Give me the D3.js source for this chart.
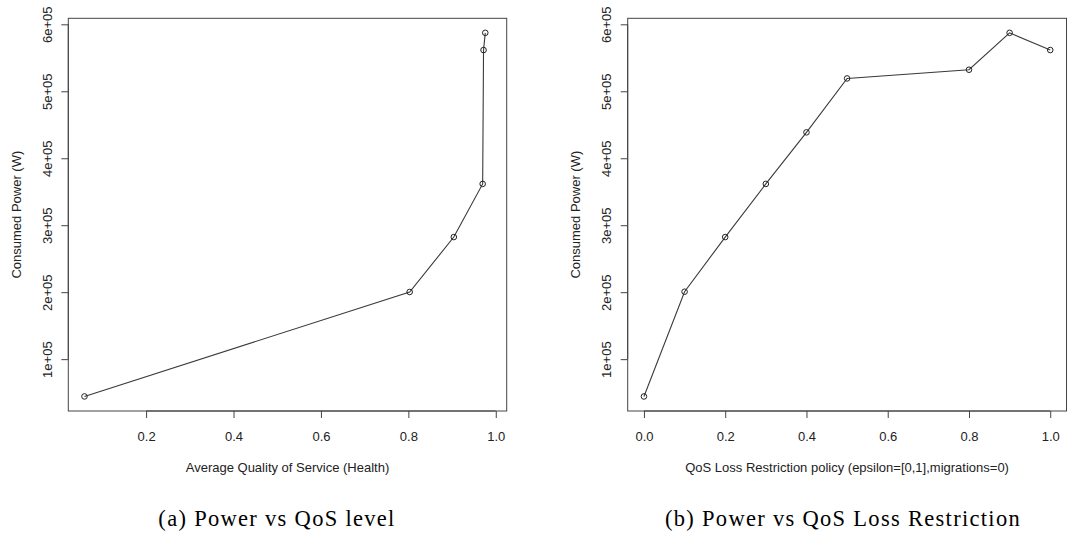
<!DOCTYPE html>
<html>
<head>
<meta charset="utf-8">
<script src="https://cdn.jsdelivr.net/npm/d3@7"></script>
<style>
  html, body { margin: 0; padding: 0; background: #fff; }
  svg { display: block; }
</style>
</head>
<body>
<svg id="fig" width="1068" height="533"></svg>
<script>
// Consumed power measured for each run (W)
const qosLevel = [0.059, 0.803, 0.904, 0.970, 0.972, 0.976];
const powerByQos = [44300, 200300, 282300, 361700, 561600, 587300];

const epsilon = [0.0, 0.1, 0.2, 0.3, 0.4, 0.5, 0.8, 0.9, 1.0];
const powerByEpsilon = [44300, 200700, 282300, 361700, 438700, 519200, 532200, 587300, 561600];

const yTicks = [100000, 200000, 300000, 400000, 500000, 600000];
const yTickLabels = ["1e+05", "2e+05", "3e+05", "4e+05", "5e+05", "6e+05"];
const xTicksA = [0.2, 0.4, 0.6, 0.8, 1.0];
const xTicksB = [0.0, 0.2, 0.4, 0.6, 0.8, 1.0];

const yTitle = "Consumed Power (W)";
const xTitleA = "Average Quality of Service (Health)";
const xTitleB = "QoS Loss Restriction policy (epsilon=[0,1],migrations=0)";
const captionA = "(a) Power vs QoS level";
const captionB = "(b) Power vs QoS Loss Restriction";

const svg = d3.select("#fig");
const sans = "'Liberation Sans', Arial, Helvetica, sans-serif";
const serif = "'Liberation Serif', 'Times New Roman', serif";

function panel(opts) {
  const { left, right, top, bottom, xDomain, xs, ys, xTicks, xTitle, caption, captionX } = opts;
  const x = d3.scaleLinear().domain(xDomain).range([left, right]);
  const y = d3.scaleLinear().domain([22560, 609000]).range([bottom, top]);
  const g = svg.append("g");

  // plot frame
  g.append("rect")
    .attr("x", left).attr("y", top)
    .attr("width", right - left).attr("height", bottom - top)
    .attr("fill", "none").attr("stroke", "#444").attr("stroke-width", 1);

  // x axis
  const xAxis = d3.axisBottom(x).tickValues(xTicks).tickSize(7).tickPadding(0)
    .tickFormat(d3.format(".1f"));
  const gx = g.append("g").attr("transform", `translate(0,${bottom})`).call(xAxis);
  gx.select(".domain").attr("stroke", "#444")
    .attr("d", `M${x(xTicks[0])},0H${x(xTicks[xTicks.length - 1])}`);
  gx.selectAll(".tick line").attr("stroke", "#444");
  gx.selectAll(".tick text")
    .attr("y", 29.7).attr("dy", null)
    .attr("font-family", sans).attr("font-size", 13).attr("fill", "#222");

  // y axis with rotated labels
  const yAxis = d3.axisLeft(y).tickValues(yTicks).tickSize(7)
    .tickFormat((d, i) => yTickLabels[i]);
  const gy = g.append("g").attr("transform", `translate(${left},0)`).call(yAxis);
  gy.select(".domain").attr("stroke", "#444")
    .attr("d", `M0,${y(yTicks[0])}V${y(yTicks[yTicks.length - 1])}`);
  gy.selectAll(".tick line").attr("stroke", "#444");
  gy.selectAll(".tick text")
    .attr("x", null).attr("dy", null)
    .attr("transform", "translate(-16.8,0) rotate(-90)")
    .attr("text-anchor", "middle")
    .attr("font-family", sans).attr("font-size", 13).attr("fill", "#222");

  // series line and markers
  const pts = xs.map((v, i) => [v, ys[i]]);
  g.append("path")
    .datum(pts)
    .attr("d", d3.line().x(d => x(d[0])).y(d => y(d[1])))
    .attr("fill", "none").attr("stroke", "#3a3a3a").attr("stroke-width", 1.1);
  g.selectAll("circle.pt").data(pts).join("circle")
    .attr("class", "pt")
    .attr("cx", d => x(d[0])).attr("cy", d => y(d[1])).attr("r", 2.8)
    .attr("fill", "none").attr("stroke", "#222").attr("stroke-width", 1);

  // titles
  g.append("text")
    .attr("transform", `translate(${left - 47.8},${(top + bottom) / 2}) rotate(-90)`)
    .attr("text-anchor", "middle")
    .attr("font-family", sans).attr("font-size", 13).attr("fill", "#222")
    .text(yTitle);
  g.append("text")
    .attr("x", (left + right) / 2).attr("y", 472)
    .attr("text-anchor", "middle")
    .attr("font-family", sans).attr("font-size", 13).attr("fill", "#222")
    .text(xTitle);

  // subfigure caption
  g.append("text")
    .attr("x", captionX).attr("y", 526)
    .attr("text-anchor", "middle")
    .attr("font-family", serif).attr("font-size", 22.5).attr("letter-spacing", 1.3)
    .attr("fill", "#000")
    .text(caption);
}

panel({
  left: 68.3, right: 506.7, top: 18.3, bottom: 411,
  xDomain: [0.022, 1.025], xs: qosLevel, ys: powerByQos,
  xTicks: xTicksA, xTitle: xTitleA, caption: captionA, captionX: 277
});

panel({
  left: 627.7, right: 1066.5, top: 18.3, bottom: 411,
  xDomain: [-0.04, 1.04], xs: epsilon, ys: powerByEpsilon,
  xTicks: xTicksB, xTitle: xTitleB, caption: captionB, captionX: 843
});
</script>
</body>
</html>
